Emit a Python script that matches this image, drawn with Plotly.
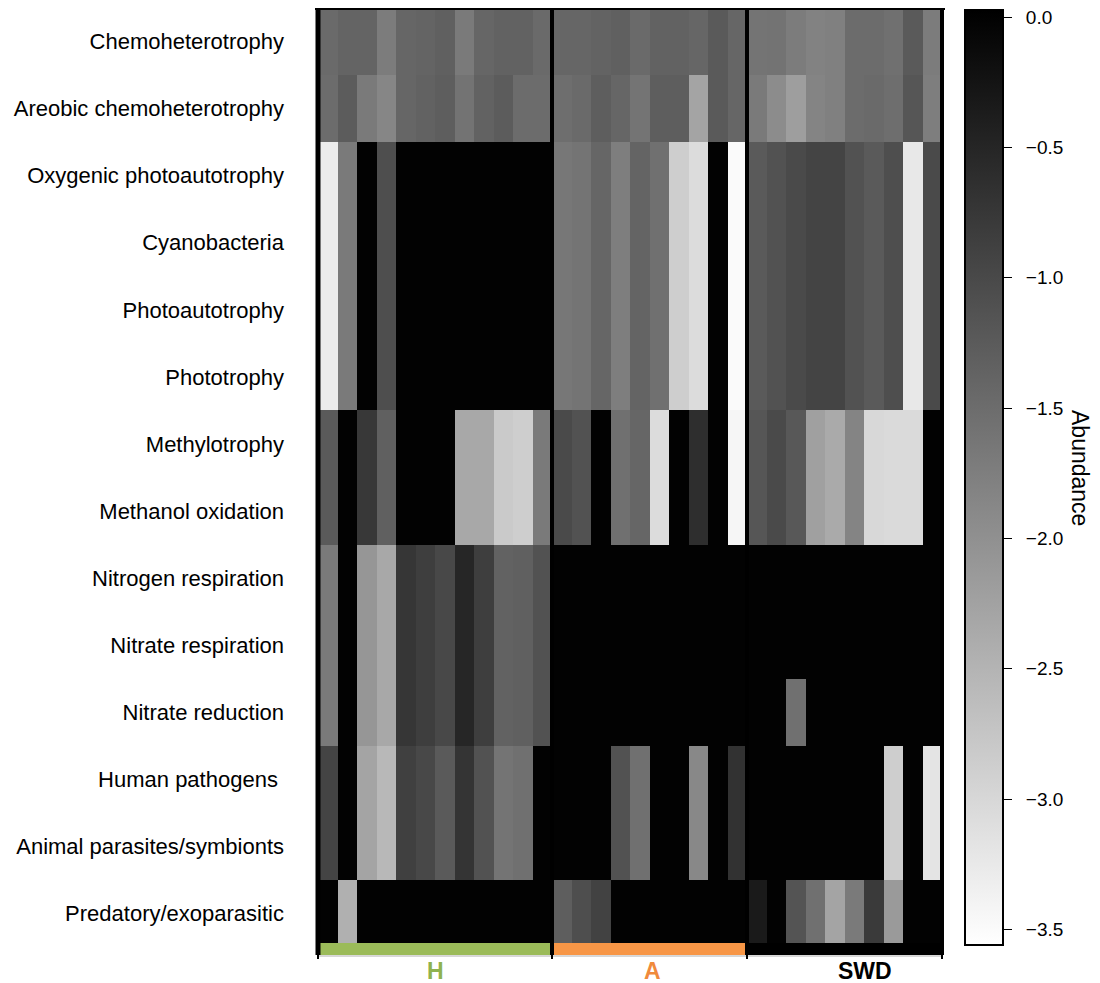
import plotly.graph_objects as go

# ---------------- data ----------------
functions = [
    "Chemoheterotrophy",
    "Areobic chemoheterotrophy",
    "Oxygenic photoautotrophy",
    "Cyanobacteria",
    "Photoautotrophy",
    "Phototrophy",
    "Methylotrophy",
    "Methanol oxidation",
    "Nitrogen respiration",
    "Nitrate respiration",
    "Nitrate reduction",
    "Human pathogens ",
    "Animal parasites/symbionts",
    "Predatory/exoparasitic",
]

groups = ["H", "A", "SWD"]
group_sizes = [12, 10, 10]
group_colors = ["#9bbb59", "#f79646", "#000000"]
group_label_colors = ["#8fb24f", "#f08a3c", "#000000"]

H_values = [
    [-1.46, -1.38, -1.38, -1.72, -1.41, -1.38, -1.32, -1.69, -1.41, -1.35, -1.35, -1.46],
    [-1.49, -1.27, -1.69, -1.86, -1.41, -1.35, -1.30, -1.59, -1.35, -1.27, -1.49, -1.49],
    [-3.29, -1.69, 0.0, -1.07, 0.0, 0.0, 0.0, 0.0, 0.0, 0.0, 0.0, 0.0],
    [-3.29, -1.69, 0.0, -1.07, 0.0, 0.0, 0.0, 0.0, 0.0, 0.0, 0.0, 0.0],
    [-3.29, -1.69, 0.0, -1.07, 0.0, 0.0, 0.0, 0.0, 0.0, 0.0, 0.0, 0.0],
    [-3.29, -1.69, 0.0, -1.07, 0.0, 0.0, 0.0, 0.0, 0.0, 0.0, 0.0, 0.0],
    [-1.24, 0.0, -0.76, -1.32, 0.0, 0.0, 0.0, -2.34, -2.34, -2.82, -2.87, -1.69],
    [-1.24, 0.0, -0.76, -1.32, 0.0, 0.0, 0.0, -2.34, -2.34, -2.82, -2.87, -1.69],
    [-1.69, 0.0, -2.08, -2.34, -0.73, -0.85, -0.99, -0.51, -0.85, -1.35, -1.32, -1.13],
    [-1.69, 0.0, -2.08, -2.34, -0.73, -0.85, -0.99, -0.51, -0.85, -1.35, -1.32, -1.13],
    [-1.69, 0.0, -2.08, -2.34, -0.73, -0.85, -0.99, -0.51, -0.85, -1.35, -1.32, -1.13],
    [-0.93, 0.0, -2.28, -2.56, -0.87, -0.99, -1.24, -0.70, -1.13, -1.61, -1.55, 0.0],
    [-0.93, 0.0, -2.28, -2.56, -0.87, -0.99, -1.24, -0.70, -1.13, -1.61, -1.55, 0.0],
    [0.0, -2.45, 0.0, 0.0, 0.0, 0.0, 0.0, 0.0, 0.0, 0.0, 0.0, 0.0],
]

A_values = [
    [-1.41, -1.41, -1.37, -1.32, -1.46, -1.35, -1.35, -1.41, -1.24, -1.41],
    [-1.52, -1.46, -1.30, -1.41, -1.61, -1.30, -1.30, -2.28, -1.24, -1.41],
    [-1.65, -1.61, -1.41, -1.75, -1.38, -1.55, -2.87, -3.07, 0.0, -3.49],
    [-1.65, -1.61, -1.41, -1.75, -1.38, -1.55, -2.87, -3.07, 0.0, -3.49],
    [-1.65, -1.61, -1.41, -1.75, -1.38, -1.55, -2.87, -3.07, 0.0, -3.49],
    [-1.65, -1.61, -1.41, -1.75, -1.38, -1.55, -2.87, -3.07, 0.0, -3.49],
    [-1.01, -1.13, 0.0, -1.55, -1.41, -3.07, 0.0, -0.62, 0.0, -3.43],
    [-1.01, -1.13, 0.0, -1.55, -1.41, -3.07, 0.0, -0.62, 0.0, -3.43],
    [0.0, 0.0, 0.0, 0.0, 0.0, 0.0, 0.0, 0.0, 0.0, 0.0],
    [0.0, 0.0, 0.0, 0.0, 0.0, 0.0, 0.0, 0.0, 0.0, 0.0],
    [0.0, 0.0, 0.0, 0.0, 0.0, 0.0, 0.0, 0.0, 0.0, 0.0],
    [0.0, 0.0, 0.0, -1.13, -1.55, 0.0, 0.0, -1.89, 0.0, -0.68],
    [0.0, 0.0, 0.0, -1.13, -1.55, 0.0, 0.0, -1.89, 0.0, -0.68],
    [-1.30, -1.07, -0.90, 0.0, 0.0, 0.0, 0.0, 0.0, 0.0, 0.0],
]

SWD_values = [
    [-1.61, -1.59, -1.72, -1.80, -1.77, -1.49, -1.49, -1.55, -1.24, -1.72],
    [-1.69, -1.94, -2.20, -1.83, -1.77, -1.49, -1.46, -1.52, -1.18, -1.75],
    [-1.24, -1.13, -1.01, -0.93, -0.93, -1.13, -1.24, -1.07, -3.24, -1.01],
    [-1.24, -1.13, -1.01, -0.93, -0.93, -1.13, -1.24, -1.07, -3.24, -1.01],
    [-1.24, -1.13, -1.01, -0.93, -0.93, -1.13, -1.24, -1.07, -3.24, -1.01],
    [-1.24, -1.13, -1.01, -0.93, -0.93, -1.13, -1.24, -1.07, -3.24, -1.01],
    [-1.18, -1.01, -1.21, -2.22, -2.36, -1.83, -3.01, -3.04, -3.04, 0.0],
    [-1.18, -1.01, -1.21, -2.22, -2.36, -1.83, -3.01, -3.04, -3.04, 0.0],
    [0.0, 0.0, 0.0, 0.0, 0.0, 0.0, 0.0, 0.0, 0.0, 0.0],
    [0.0, 0.0, 0.0, 0.0, 0.0, 0.0, 0.0, 0.0, 0.0, 0.0],
    [0.0, 0.0, -1.55, 0.0, 0.0, 0.0, 0.0, 0.0, 0.0, 0.0],
    [0.0, 0.0, 0.0, 0.0, 0.0, 0.0, 0.0, -2.87, 0.0, -3.18],
    [0.0, 0.0, 0.0, 0.0, 0.0, 0.0, 0.0, -2.87, 0.0, -3.18],
    [-0.34, 0.0, -1.15, -1.55, -2.28, -1.69, -0.79, -2.14, 0.0, 0.0],
]

colorbar_ticks = [0.0, -0.5, -1.0, -1.5, -2.0, -2.5, -3.0, -3.5]
z_min, z_max = -3.56, 0.027

# ---------------- layout geometry ----------------
# The page places the figure 8px in from the top-left, so positions are
# expressed in screen pixels and converted with OFF.
OFF = 8
W, H = 1100, 983
PLOT_L, PLOT_R, PLOT_T, PLOT_B = 318, 942, 8, 947  # screen pixels
ML, MT = PLOT_L - OFF, PLOT_T - OFF
MR = W - (PLOT_R - OFF)
MB = H - (PLOT_B - OFF)
PW, PH = PLOT_R - PLOT_L, PLOT_B - PLOT_T


def px_x(px):
    return (px - PLOT_L) / PW


def px_y(py):
    return (PLOT_B - py) / PH


z = [h + a + s for h, a, s in zip(H_values, A_values, SWD_values)]
ncol = sum(group_sizes)
cols = list(range(ncol))

font_family = "Liberation Sans, Arial, Helvetica, sans-serif"
NBSP = "\u00a0"

fig = go.Figure(
    go.Heatmap(
        z=z,
        x=cols,
        y=functions,
        colorscale=[[0, "#ffffff"], [1, "#000000"]],
        zmin=z_min,
        zmax=z_max,
        xgap=0,
        ygap=0,
        colorbar=dict(
            x=px_x(965),
            xanchor="left",
            xpad=0,
            y=px_y(10),
            yanchor="top",
            ypad=0,
            lenmode="pixels",
            len=935,
            thicknessmode="pixels",
            thickness=38,
            outlinewidth=2,
            outlinecolor="#000000",
            tickvals=colorbar_ticks,
            ticktext=[NBSP * 2 + ("%.1f" % v).replace("-", "\u2212") for v in colorbar_ticks],
            ticks="outside",
            ticklen=8,
            tickwidth=1,
            tickcolor="#000000",
            ticklabeloverflow="allow",
            tickfont=dict(family=font_family, size=19, color="#000000"),
        ),
    )
)

# group boundaries (paper coords derived from group sizes)
bounds = [0]
for s in group_sizes:
    bounds.append(bounds[-1] + s)
xb = [b / ncol for b in bounds]

shapes = []
bar_top, bar_bot = px_y(943), px_y(955)
for i, g in enumerate(groups):
    shapes.append(dict(type="rect", xref="paper", yref="paper",
                       x0=xb[i], x1=xb[i + 1], y0=bar_bot, y1=bar_top,
                       fillcolor=group_colors[i], line=dict(width=0), layer="above"))

# thin axis line under the bars with small ticks
shapes.append(dict(type="line", xref="paper", yref="paper", x0=0, x1=1,
                   y0=px_y(956), y1=px_y(956), line=dict(color="#b0b0b0", width=1)))
for b in xb:
    shapes.append(dict(type="line", xref="paper", yref="paper", x0=b, x1=b,
                       y0=px_y(955), y1=px_y(959), line=dict(color="#000000", width=2)))

# frame and group dividers
for k, b in enumerate(xb):
    w = 5 if k == 0 else 4
    shapes.append(dict(type="line", xref="paper", yref="paper", x0=b, x1=b,
                       y0=px_y(955), y1=px_y(7), line=dict(color="#000000", width=w),
                       layer="above"))
shapes.append(dict(type="line", xref="paper", yref="paper", x0=px_x(315), x1=px_x(945),
                   y0=px_y(8.5), y1=px_y(8.5), line=dict(color="#000000", width=3),
                   layer="above"))

annotations = []
label_offsets = [0, 3, 20]
for i, g in enumerate(groups):
    cx = (xb[i] + xb[i + 1]) / 2 + label_offsets[i] / PW
    annotations.append(dict(text="<b>%s</b>" % g, xref="paper", yref="paper",
                            x=cx, y=px_y(971), xanchor="center", yanchor="middle",
                            showarrow=False,
                            font=dict(family=font_family, size=23, color=group_label_colors[i])))
annotations.append(dict(text="Abundance", xref="paper", yref="paper",
                        x=px_x(1080), y=px_y(468), xanchor="center", yanchor="middle",
                        textangle=90, showarrow=False,
                        font=dict(family=font_family, size=23, color="#000000")))

fig.update_layout(
    width=W,
    height=H,
    margin=dict(l=ML, r=MR, t=MT, b=MB, pad=0),
    paper_bgcolor="#ffffff",
    plot_bgcolor="#ffffff",
    shapes=shapes,
    annotations=annotations,
    showlegend=False,
    font=dict(family=font_family, color="#000000"),
)
fig.update_xaxes(range=[-0.5, ncol - 0.5], showticklabels=False, showgrid=False,
                 zeroline=False, showline=False, ticks="")
fig.update_yaxes(autorange=False, range=[len(functions) - 0.5, -0.5], showgrid=False,
                 zeroline=False, showline=False, ticks="", ticklabelstandoff=33,
                 tickfont=dict(family=font_family, size=22, color="#000000"))

fig.write_html("out.html")
